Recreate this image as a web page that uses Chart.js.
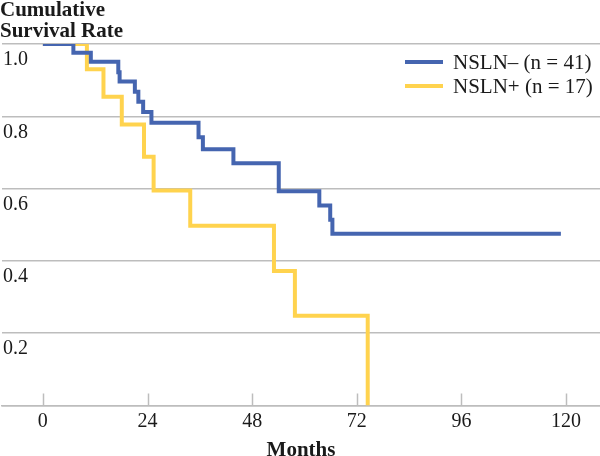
<!DOCTYPE html>
<html>
<head>
<meta charset="utf-8">
<script src="https://cdn.jsdelivr.net/npm/chart.js@4"></script>
<style>
  html, body { margin: 0; padding: 0; background: #fff; }
  #wrap { width: 600px; height: 456px; }
</style>
</head>
<body>
<div id="wrap"><canvas id="km"></canvas></div>
<script>
// survival curves (months, cumulative survival)
const negMonths   = [0, 7, 11, 17.3, 17.6, 21.1, 21.9, 23.0, 24.9, 35.7, 36.7, 43.7, 54.1, 63.4, 65.9, 66.4, 118.8];
const negSurvival = [1, 0.976, 0.951, 0.922, 0.896, 0.868, 0.840, 0.812, 0.782, 0.742, 0.709, 0.670, 0.593, 0.553, 0.514, 0.475, 0.475];
const posMonths   = [0, 10.1, 13.9, 18.1, 23.2, 25.4, 33.8, 53.0, 57.8, 74.5];
const posSurvival = [1, 0.930, 0.854, 0.777, 0.688, 0.595, 0.497, 0.372, 0.248, 0];

const seriesLabels = ['NSLN\u2013 (n = 41)', 'NSLN+ (n = 17)'];
const seriesColors = ['#4565b0', '#ffd34e'];
const xTicks = [0, 24, 48, 72, 96, 120];
const yTicks = [0, 0.2, 0.4, 0.6, 0.8, 1.0];

const serif = "'Liberation Serif', 'Times New Roman', serif";
const gridGray = '#bdbdbd';

function toPoints(xs, ys) {
  return xs.map((x, i) => ({ x: x, y: ys[i] }));
}

// small tick marks standing up from the x axis
const upTicks = {
  id: 'upTicks',
  beforeDatasetsDraw(chart) {
    const ctx = chart.ctx;
    const x = chart.scales.x;
    const bottom = chart.chartArea.bottom;
    ctx.save();
    ctx.strokeStyle = gridGray;
    ctx.lineWidth = 1.5;
    xTicks.forEach(v => {
      const px = Math.round(x.getPixelForValue(v)) + 0.5;
      ctx.beginPath();
      ctx.moveTo(px, bottom);
      ctx.lineTo(px, bottom - 12);
      ctx.stroke();
    });
    ctx.restore();
  }
};

// legend in the top right corner of the plot
const cornerLegend = {
  id: 'cornerLegend',
  afterDraw(chart) {
    const ctx = chart.ctx;
    const area = chart.chartArea;
    ctx.save();
    ctx.font = '21px ' + serif;
    ctx.textBaseline = 'middle';
    ctx.textAlign = 'left';
    chart.data.datasets.forEach((ds, i) => {
      const y = area.top + 18 + i * 24;
      const x0 = area.right - 195;
      ctx.strokeStyle = ds.borderColor;
      ctx.lineWidth = 4;
      ctx.beginPath();
      ctx.moveTo(x0, y);
      ctx.lineTo(x0 + 38, y);
      ctx.stroke();
      ctx.fillStyle = '#1a1a1a';
      ctx.fillText(ds.label, x0 + 48, y + 1);
    });
    ctx.restore();
  }
};

const chart = new Chart(document.getElementById('km'), {
  type: 'line',
  data: {
    datasets: [
      {
        label: seriesLabels[0],
        data: toPoints(negMonths, negSurvival),
        borderColor: seriesColors[0],
        borderWidth: 4,
        stepped: 'before',
        pointRadius: 0,
        fill: false
      },
      {
        label: seriesLabels[1],
        data: toPoints(posMonths, posSurvival),
        borderColor: seriesColors[1],
        borderWidth: 4,
        stepped: 'before',
        pointRadius: 0,
        fill: false
      }
    ]
  },
  options: {
    responsive: true,
    maintainAspectRatio: false,
    animation: false,
    layout: { padding: 0 },
    plugins: {
      legend: { display: false },
      tooltip: { enabled: false },
      title: {
        display: true,
        text: ['Cumulative', 'Survival Rate'],
        align: 'start',
        color: '#1a1a1a',
        font: { family: serif, size: 21, weight: 'bold', lineHeight: 1.0 },
        padding: { top: 0, bottom: 2 }
      }
    },
    scales: {
      x: {
        type: 'linear',
        min: -9.37,
        max: 127.77,
        afterBuildTicks: s => { s.ticks = xTicks.map(v => ({ value: v })); },
        grid: { display: false, drawTicks: false },
        border: { display: true, color: gridGray, width: 1.5 },
        ticks: {
          color: '#1a1a1a',
          padding: 6,
          maxRotation: 0,
          font: { family: serif, size: 20, lineHeight: 1.0 }
        },
        title: {
          display: true,
          text: 'Months',
          color: '#1a1a1a',
          font: { family: serif, size: 21, weight: 'bold', lineHeight: 0.5 },
          padding: { top: 8, bottom: 0 }
        }
      },
      y: {
        min: 0,
        max: 1,
        afterBuildTicks: s => { s.ticks = yTicks.map(v => ({ value: v })); },
        grid: { color: gridGray, lineWidth: 1.5, drawTicks: false },
        border: { display: false },
        ticks: {
          mirror: true,
          padding: 1,
          labelOffset: 16,
          color: '#1a1a1a',
          font: { family: serif, size: 20, lineHeight: 1.0 },
          callback: v => (v === 0 ? '' : v.toFixed(1))
        }
      }
    }
  },
  plugins: [upTicks, cornerLegend]
});
</script>
</body>
</html>
